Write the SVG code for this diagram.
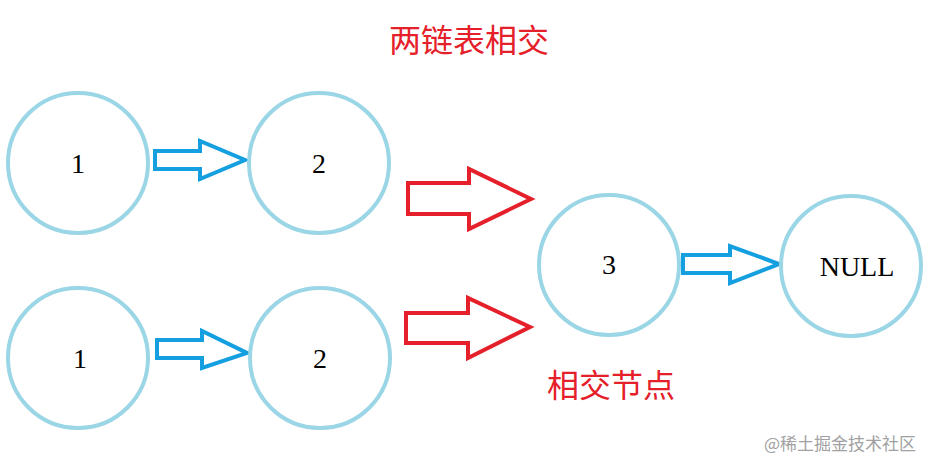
<svg xmlns="http://www.w3.org/2000/svg" width="929" height="469" viewBox="0 0 929 469">
<style>
.n{fill:#fff;stroke:#9bd6e6;stroke-width:4}
.t{font-family:"Liberation Serif",serif;font-size:28px;text-anchor:middle;fill:#000}
.r{fill:#fff;stroke:#e5202a;stroke-width:4;stroke-linejoin:miter}
.b{fill:#fff;stroke:#14a0e0;stroke-width:4}
.h{font-family:"Liberation Serif","Noto Sans CJK SC",serif;font-size:32px;fill:#e5202a}
</style>
<rect width="929" height="469" fill="#fff"/>
<text class="h" x="389" y="52">两链表相交</text>
<text class="h" x="547" y="397">相交节点</text>
<g id="connectors">
<polygon class="b" points="155,151 200,151 200,141 245,160 200,179 200,169 155,169"/>
<polygon class="b" points="157,340 202,340 202,331 247,353 202,368 202,358 157,358"/>
<polygon class="b" points="683,255 730,255 730,246 779,264 730,283 730,273 683,273"/>
<polygon class="r" points="408,183 469,183 469,169 531,199 469,229 469,214 408,214"/>
<polygon class="r" points="406,313 468,313 468,298 530,327 468,358 468,343 406,343"/>
</g>
<g id="a1"><circle class="n" cx="78" cy="163" r="70"/><text class="t" x="78" y="173">1</text></g>
<g id="a2"><circle class="n" cx="319" cy="163" r="70"/><text class="t" x="319" y="173">2</text></g>
<g id="b1"><circle class="n" cx="78" cy="358" r="70"/><text class="t" x="80" y="368">1</text></g>
<g id="b2"><circle class="n" cx="320" cy="358" r="70"/><text class="t" x="320" y="368">2</text></g>
<g id="c3"><circle class="n" cx="609" cy="265" r="70"/><text class="t" x="609" y="274">3</text></g>
<g id="null"><circle class="n" cx="851" cy="266" r="70"/><text class="t" x="857" y="276">NULL</text></g>
<text x="916" y="450" font-family="'Noto Sans CJK SC',sans-serif" font-size="17" fill="#8a8a8a" text-anchor="end" opacity="0.8">@稀土掘金技术社区</text>
</svg>
